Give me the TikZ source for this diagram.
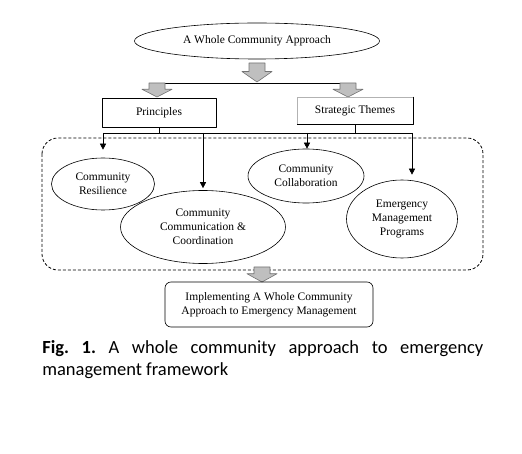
\documentclass[tikz,border=0pt]{standalone}
\usepackage{fontspec}
\setmainfont{Liberation Serif}
\newfontfamily\capfont{Carlito}
\usetikzlibrary{shapes.geometric,arrows.meta}
\tikzset{
  oval/.style={ellipse, draw, inner sep=0pt, align=center},
  plainbox/.style={rectangle, draw, inner sep=0pt, align=center},
  blockfill/.style={fill=gray!50, draw=gray!90!black, line width=0.6pt},
  bus/.style={line width=0.6pt},
  tip/.style={bus, -{Triangle[length=6pt,width=6pt]}},
  group/.style={line width=0.8pt, dash pattern=on 3pt off 2pt, rounded corners=16pt}
}
% gray block arrow: centre x, top y, tip y
\newcommand\blockarrow[3]{%
  \filldraw[blockfill] ({#1-8},#2) -- ({#1+8},#2) -- ({#1+8},{#2+0.45*(#3-#2)})
    -- ({#1+15},{#2+0.45*(#3-#2)}) -- (#1,#3) -- ({#1-15},{#2+0.45*(#3-#2)})
    -- ({#1-8},{#2+0.45*(#3-#2)}) -- cycle;}
\frenchspacing
\begin{document}
\begin{tikzpicture}[x=1pt, y=-1pt, font=\fontsize{11.5}{14}\selectfont, line join=round, line width=0.6pt]
  \useasboundingbox (0,0) rectangle (522,454);
  \node[oval, minimum width=245pt, minimum height=36pt] (whole) at (257,41) {A Whole Community Approach};
  \blockarrow{257}{63}{82}
  \coordinate (spl) at (157,83);
  \coordinate (spr) at (348,83);
  \draw[bus] (spl) -- (spr);
  \blockarrow{157}{83}{97}
  \blockarrow{348}{83}{97}
  \node[plainbox, minimum width=114pt, minimum height=29pt] (prin) at (159,112.5) {Principles};
  \node[plainbox, draw=gray!60, minimum width=116pt, minimum height=27pt] (theme) at (355,110.5) {Strategic Themes};
  \draw[bus] (theme.north east) -- (theme.south east) -- (theme.south west);
  % bus to the four parts
  \coordinate (b1) at (103,133);
  \coordinate (b2) at (203,133);
  \coordinate (b3) at (307,133);
  \coordinate (b4) at (412,133);
  \draw[bus] (b1) -- (b4);
  \draw[bus] (prin.south) -- (prin.south |- b1);
  \draw[bus] (theme.south) -- (theme.south |- b1);
  \draw[group] (42,138) rectangle (483,270);
  \node[oval, minimum width=103pt, minimum height=52pt] (resil) at (103,184) {Community\\Resilience};
  \node[oval, minimum width=165pt, minimum height=73pt] (comm) at (203,227) {Community\\Communication \&\\Coordination};
  \node[oval, minimum width=116pt, minimum height=54pt] (collab) at (306,176) {Community\\Collaboration};
  \node[oval, minimum width=111pt, minimum height=78pt] (emp) at (402,219) {Emergency\\Management\\Programs};
  \draw[tip, shorten >=8pt] (b1) -- (resil.north);
  \draw[tip, shorten >=2pt] (b2) -- (comm.north);
  \draw[tip] (b3) -- (b3 |- collab.north);
  \draw[tip, shorten >=5pt] (b4) -- (b4 |- emp.north);
  \blockarrow{262}{267}{282}
  \node[plainbox, rounded corners=6pt, minimum width=208pt, minimum height=45pt] (impl) at (269,304.5)
    {Implementing A Whole Community\\Approach to Emergency Management};
  \node[anchor=north west, inner sep=0pt, text width=441pt, align=justify,
    font=\capfont\fontsize{18.5}{22}\selectfont] (cap) at (42,340)
    {\textbf{Fig. 1.} A whole community approach to emergency\linebreak management framework};
\end{tikzpicture}
\end{document}
